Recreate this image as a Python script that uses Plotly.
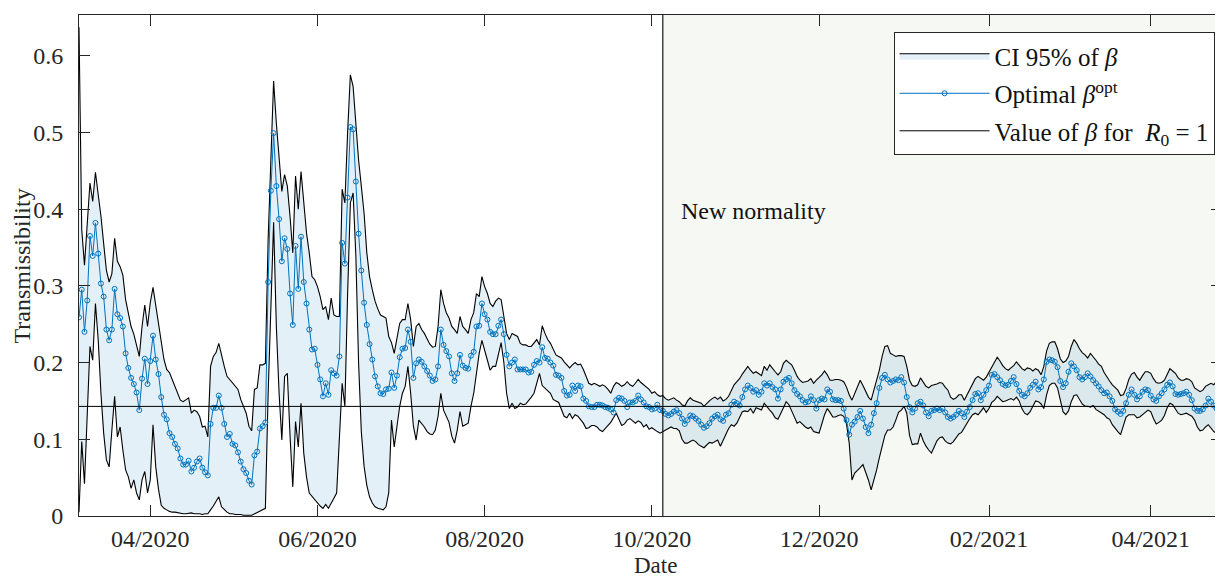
import plotly.graph_objects as go
import pandas as pd

# ---------------- data ----------------
START_DATE = "2020-03-06"
END_DATE = "2021-04-27"
NEW_NORMALITY_DATE = "2020-10-05"
BETA_R0 = 1 / 7  # value of beta for R0 = 1

beta_opt = [
    0.259, 0.295, 0.240, 0.281, 0.365, 0.339, 0.382, 0.342, 0.303, 0.286,
    0.243, 0.229, 0.243, 0.296, 0.263, 0.258, 0.247, 0.212, 0.193, 0.180,
    0.172, 0.161, 0.138, 0.179, 0.205, 0.172, 0.202, 0.235, 0.204, 0.185,
    0.155, 0.132, 0.126, 0.108, 0.103, 0.094, 0.088, 0.075, 0.067, 0.067,
    0.072, 0.058, 0.063, 0.071, 0.075, 0.063, 0.057, 0.053, 0.120, 0.141,
    0.141, 0.157, 0.141,
    0.120, 0.103, 0.107, 0.094, 0.092, 0.083, 0.071, 0.061, 0.056, 0.046,
    0.041, 0.079, 0.084, 0.114, 0.117, 0.122, 0.305, 0.424, 0.499, 0.430,
    0.387, 0.332, 0.362, 0.348, 0.290, 0.249, 0.352, 0.296, 0.364, 0.305,
    0.277, 0.243, 0.217, 0.218, 0.197, 0.178, 0.156, 0.173, 0.158, 0.190,
    0.186, 0.183, 0.208, 0.356, 0.329, 0.415, 0.507, 0.504, 0.436, 0.368,
    0.320, 0.278,
    0.249, 0.224, 0.204, 0.182, 0.169, 0.160, 0.159, 0.165, 0.166, 0.187,
    0.167, 0.183, 0.207, 0.218, 0.219, 0.243, 0.227, 0.180, 0.199, 0.204,
    0.201, 0.195, 0.189, 0.183, 0.176, 0.178, 0.195, 0.243, 0.223, 0.215,
    0.208, 0.186, 0.176, 0.186, 0.210, 0.196, 0.193, 0.192, 0.209, 0.214,
    0.247, 0.248, 0.277, 0.263, 0.256, 0.240, 0.237, 0.237, 0.248, 0.256,
    0.237, 0.210, 0.195,
    0.200, 0.204, 0.191, 0.191, 0.191, 0.191, 0.187, 0.188, 0.197, 0.202,
    0.200, 0.220, 0.206, 0.205, 0.200, 0.196, 0.184, 0.183, 0.180, 0.163,
    0.157, 0.158, 0.170, 0.163, 0.170, 0.169, 0.153, 0.150, 0.143, 0.142,
    0.142, 0.145, 0.145, 0.144, 0.142, 0.141, 0.139, 0.135, 0.151, 0.154,
    0.153, 0.150, 0.142, 0.148, 0.148, 0.150, 0.157, 0.152, 0.148, 0.143,
    0.142, 0.139, 0.140, 0.145, 0.138, 0.137, 0.133, 0.131, 0.133,
    0.136, 0.138, 0.134, 0.127, 0.120, 0.125, 0.131, 0.130, 0.127, 0.124,
    0.119, 0.115, 0.117, 0.121, 0.127, 0.130, 0.132, 0.126, 0.124, 0.132,
    0.134, 0.145, 0.149, 0.147, 0.144, 0.155, 0.165, 0.170, 0.167, 0.162,
    0.164, 0.158, 0.162, 0.173, 0.170, 0.173, 0.168, 0.165, 0.153, 0.165,
    0.175, 0.178, 0.180, 0.173, 0.164, 0.159, 0.156, 0.151, 0.148, 0.149,
    0.156, 0.151, 0.140, 0.151, 0.153, 0.152, 0.165, 0.162, 0.152, 0.151,
    0.151, 0.150, 0.140, 0.125, 0.106, 0.119, 0.123, 0.129, 0.137, 0.127,
    0.116, 0.108, 0.119, 0.134, 0.147, 0.167, 0.180, 0.184, 0.178, 0.174,
    0.176, 0.178, 0.177, 0.181, 0.174, 0.155, 0.142, 0.135, 0.140, 0.147,
    0.149, 0.144, 0.135, 0.130, 0.137, 0.138, 0.140, 0.138, 0.140, 0.135,
    0.129, 0.127, 0.129, 0.132, 0.137, 0.134, 0.129, 0.136, 0.142, 0.151,
    0.159, 0.160, 0.151, 0.158, 0.164, 0.170, 0.184, 0.185, 0.181, 0.177,
    0.172, 0.170, 0.171, 0.176, 0.181, 0.172, 0.163, 0.158, 0.156, 0.160,
    0.167, 0.171, 0.175, 0.165, 0.168, 0.178, 0.201, 0.204, 0.203, 0.201,
    0.194, 0.176, 0.168, 0.173, 0.188, 0.199, 0.195, 0.190, 0.181, 0.178,
    0.181, 0.186, 0.182, 0.177, 0.173, 0.169, 0.164, 0.160, 0.161, 0.156,
    0.150, 0.139, 0.136, 0.133, 0.137, 0.147, 0.158, 0.165, 0.158, 0.152,
    0.156, 0.162, 0.165, 0.164, 0.157, 0.152, 0.150, 0.156, 0.160, 0.165,
    0.171, 0.174, 0.169, 0.159, 0.158, 0.159, 0.160, 0.162, 0.158, 0.151,
    0.140, 0.137, 0.137, 0.139, 0.144, 0.153, 0.149, 0.144, 0.140, 0.146,
    0.152,
]

ci_low = [
    0.005, 0.097, 0.042, 0.140, 0.221, 0.203, 0.277, 0.230, 0.160, 0.108,
    0.073, 0.064, 0.112, 0.156, 0.103, 0.116, 0.086, 0.060, 0.051, 0.036,
    0.047, 0.030, 0.021, 0.047, 0.058, 0.030, 0.047, 0.119, 0.064, 0.035,
    0.014, 0.010, 0.008, 0.006, 0.005, 0.005, 0.004, 0.004, 0.003, 0.003,
    0.003, 0.004, 0.003, 0.003, 0.003, 0.002, 0.003, 0.003, 0.008, 0.013,
    0.018, 0.025, 0.012,
    0.008, 0.005, 0.003, 0.003, 0.002, 0.002, 0.002, 0.001, 0.001, 0.001,
    0.001, 0.002, 0.004, 0.006, 0.008, 0.010, 0.159, 0.268, 0.383, 0.247,
    0.160, 0.099, 0.182, 0.186, 0.104, 0.038, 0.123, 0.090, 0.147, 0.082,
    0.051, 0.030, 0.025, 0.021, 0.017, 0.013, 0.010, 0.015, 0.010, 0.017,
    0.023, 0.030, 0.095, 0.173, 0.143, 0.290, 0.408, 0.421, 0.340, 0.200,
    0.110, 0.065,
    0.040, 0.025, 0.017, 0.012, 0.010, 0.009, 0.008, 0.012, 0.030, 0.125,
    0.090, 0.117, 0.143, 0.160, 0.169, 0.195, 0.160, 0.117, 0.099, 0.125,
    0.121, 0.116, 0.110, 0.107, 0.106, 0.112, 0.130, 0.160, 0.138, 0.130,
    0.122, 0.104, 0.095, 0.112, 0.136, 0.117, 0.119, 0.121, 0.143, 0.160,
    0.182, 0.212, 0.229, 0.216, 0.203, 0.190, 0.195, 0.195, 0.212, 0.226,
    0.200, 0.160, 0.140,
    0.147, 0.140, 0.142, 0.147, 0.145, 0.146, 0.150, 0.155, 0.160, 0.172,
    0.186, 0.170, 0.166, 0.163, 0.160, 0.152, 0.150, 0.148, 0.138, 0.130,
    0.128, 0.134, 0.127, 0.132, 0.130, 0.125, 0.121, 0.114, 0.115, 0.118,
    0.118, 0.116, 0.112, 0.110, 0.114, 0.118, 0.122, 0.128, 0.134, 0.127,
    0.118, 0.120, 0.125, 0.127, 0.124, 0.121, 0.124, 0.122, 0.116, 0.119,
    0.113, 0.115, 0.112, 0.110, 0.108, 0.109, 0.112, 0.114, 0.116,
    0.114, 0.114, 0.111, 0.100, 0.095, 0.095, 0.097, 0.099, 0.097, 0.093,
    0.091, 0.089, 0.093, 0.096, 0.095, 0.097, 0.099, 0.091, 0.099, 0.107,
    0.114, 0.119, 0.117, 0.121, 0.128, 0.136, 0.137, 0.136, 0.140, 0.134,
    0.141, 0.140, 0.138, 0.147, 0.143, 0.138, 0.134, 0.128, 0.126, 0.134,
    0.141, 0.149, 0.145, 0.137, 0.130, 0.121, 0.123, 0.120, 0.116, 0.114,
    0.116, 0.110, 0.109, 0.108, 0.120, 0.132, 0.140, 0.135, 0.129, 0.129,
    0.131, 0.132, 0.130, 0.120, 0.095, 0.047, 0.056, 0.059, 0.063, 0.067,
    0.058, 0.047, 0.034, 0.045, 0.060, 0.076, 0.092, 0.105, 0.112, 0.112,
    0.116, 0.125, 0.135, 0.138, 0.143, 0.134, 0.105, 0.093, 0.094, 0.094,
    0.108, 0.098, 0.091, 0.086, 0.082, 0.090, 0.098, 0.102, 0.103, 0.098,
    0.095, 0.094, 0.097, 0.102, 0.107, 0.109, 0.114, 0.121, 0.127, 0.132,
    0.134, 0.132, 0.136, 0.141, 0.135, 0.140, 0.148, 0.151, 0.156, 0.152,
    0.149, 0.150, 0.151, 0.153, 0.151, 0.155, 0.150, 0.140, 0.134, 0.132,
    0.136, 0.143, 0.150, 0.149, 0.146, 0.140, 0.158, 0.170, 0.173, 0.173,
    0.167, 0.153, 0.136, 0.132, 0.137, 0.149, 0.157, 0.158, 0.153, 0.146,
    0.143, 0.143, 0.142, 0.144, 0.139, 0.136, 0.134, 0.132, 0.128, 0.126,
    0.119, 0.114, 0.110, 0.106, 0.117, 0.129, 0.132, 0.132, 0.132, 0.128,
    0.129, 0.131, 0.135, 0.138, 0.136, 0.127, 0.120, 0.122, 0.125, 0.131,
    0.141, 0.147, 0.145, 0.140, 0.134, 0.132, 0.133, 0.134, 0.132, 0.130,
    0.125, 0.116, 0.111, 0.112, 0.116, 0.119, 0.114, 0.110, 0.108, 0.111,
    0.115,
]

ci_high = [
    0.637, 0.373, 0.327, 0.380, 0.434, 0.410, 0.448, 0.419, 0.391, 0.355,
    0.320, 0.305, 0.316, 0.362, 0.332, 0.325, 0.314, 0.282, 0.265, 0.247,
    0.237, 0.221, 0.208, 0.247, 0.275, 0.247, 0.278, 0.298, 0.274, 0.247,
    0.223, 0.204, 0.191, 0.187, 0.178, 0.169, 0.160, 0.151, 0.149, 0.152,
    0.154, 0.134, 0.138, 0.136, 0.130, 0.116, 0.117, 0.103, 0.195, 0.208,
    0.213, 0.225, 0.208,
    0.195, 0.182, 0.178, 0.173, 0.169, 0.165, 0.152, 0.143, 0.134, 0.117,
    0.111, 0.165, 0.167, 0.197, 0.197, 0.199, 0.360, 0.464, 0.567, 0.512,
    0.469, 0.423, 0.445, 0.430, 0.390, 0.343, 0.443, 0.400, 0.449, 0.404,
    0.369, 0.343, 0.312, 0.308, 0.299, 0.286, 0.269, 0.273, 0.256, 0.284,
    0.262, 0.260, 0.260, 0.426, 0.408, 0.500, 0.575, 0.560, 0.508, 0.464,
    0.430, 0.395,
    0.343, 0.312, 0.295, 0.280, 0.270, 0.262, 0.260, 0.258, 0.234, 0.226,
    0.212, 0.234, 0.251, 0.256, 0.256, 0.277, 0.256, 0.221, 0.247, 0.251,
    0.243, 0.238, 0.230, 0.224, 0.220, 0.221, 0.247, 0.295, 0.277, 0.265,
    0.258, 0.247, 0.243, 0.238, 0.260, 0.247, 0.243, 0.238, 0.256, 0.265,
    0.290, 0.286, 0.312, 0.299, 0.290, 0.277, 0.273, 0.280, 0.284, 0.282,
    0.260, 0.238, 0.230,
    0.238, 0.236, 0.234, 0.225, 0.223, 0.223, 0.221, 0.221, 0.225, 0.230,
    0.223, 0.248, 0.238, 0.230, 0.225, 0.217, 0.210, 0.208, 0.206, 0.201,
    0.197, 0.193, 0.197, 0.200, 0.197, 0.198, 0.191, 0.182, 0.173, 0.171,
    0.173, 0.171, 0.169, 0.171, 0.169, 0.165, 0.160, 0.169, 0.174, 0.172,
    0.169, 0.171, 0.175, 0.171, 0.169, 0.173, 0.178, 0.174, 0.171, 0.167,
    0.165, 0.160, 0.162, 0.158, 0.156, 0.157, 0.153, 0.151, 0.152,
    0.154, 0.151, 0.149, 0.145, 0.143, 0.150, 0.154, 0.151, 0.150, 0.148,
    0.147, 0.143, 0.147, 0.150, 0.153, 0.155, 0.152, 0.155, 0.150, 0.152,
    0.156, 0.164, 0.171, 0.175, 0.179, 0.185, 0.190, 0.195, 0.190, 0.186,
    0.188, 0.185, 0.183, 0.195, 0.190, 0.197, 0.192, 0.188, 0.184, 0.188,
    0.199, 0.203, 0.200, 0.197, 0.190, 0.182, 0.177, 0.174, 0.175, 0.176,
    0.179, 0.173, 0.177, 0.180, 0.184, 0.189, 0.184, 0.177, 0.177, 0.178,
    0.178, 0.177, 0.175, 0.168, 0.158, 0.151, 0.160, 0.169, 0.177, 0.170,
    0.162, 0.155, 0.151, 0.164, 0.177, 0.190, 0.208, 0.221, 0.222, 0.212,
    0.210, 0.208, 0.209, 0.209, 0.208, 0.195, 0.177, 0.170, 0.169, 0.171,
    0.180, 0.175, 0.169, 0.167, 0.170, 0.171, 0.172, 0.174, 0.173, 0.168,
    0.164, 0.155, 0.152, 0.154, 0.158, 0.158, 0.151, 0.158, 0.165, 0.173,
    0.179, 0.182, 0.180, 0.177, 0.181, 0.188, 0.195, 0.201, 0.207, 0.202,
    0.196, 0.192, 0.190, 0.193, 0.196, 0.201, 0.197, 0.192, 0.190, 0.193,
    0.192, 0.189, 0.192, 0.190, 0.184, 0.195, 0.215, 0.225, 0.227, 0.227,
    0.218, 0.205, 0.200, 0.202, 0.208, 0.221, 0.230, 0.225, 0.218, 0.213,
    0.210, 0.206, 0.212, 0.208, 0.203, 0.198, 0.195, 0.187, 0.181, 0.176,
    0.171, 0.167, 0.164, 0.157, 0.158, 0.166, 0.178, 0.185, 0.187, 0.181,
    0.177, 0.183, 0.188, 0.188, 0.186, 0.179, 0.174, 0.173, 0.174, 0.177,
    0.185, 0.192, 0.189, 0.186, 0.180, 0.177, 0.177, 0.179, 0.178, 0.175,
    0.167, 0.164, 0.162, 0.164, 0.169, 0.171, 0.173, 0.171, 0.176, 0.177,
    0.180,
]

tick_dates = ["2020-04-01", "2020-06-01", "2020-08-01", "2020-10-01",
              "2020-12-01", "2021-02-01", "2021-04-01"]
tick_labels = ["04/2020", "06/2020", "08/2020", "10/2020",
               "12/2020", "02/2021", "04/2021"]
y_ticks = [0, 0.1, 0.2, 0.3, 0.4, 0.5, 0.6]
y_tick_labels = ["0", "0.1", "0.2", "0.3", "0.4", "0.5", "0.6"]

# ---------------- figure ----------------
dates = pd.date_range(START_DATE, periods=len(beta_opt), freq="D")
band_x = list(dates) + list(dates[::-1])
band_y = list(ci_high) + list(ci_low[::-1])

FONT = "Liberation Serif, Times New Roman, serif"
BLUE = "#0072BD"
AX = "#262626"
FS = 24

fig = go.Figure()

fig.add_trace(go.Scatter(
    x=band_x, y=band_y, fill="toself",
    fillcolor="rgba(0,114,189,0.11)",
    line=dict(color="black", width=1.1),
    mode="lines", name="CI 95% of <i>β</i>",
    legendgroup="a", hoverinfo="skip",
))
fig.add_trace(go.Scatter(
    x=dates, y=beta_opt, mode="lines+markers",
    line=dict(color=BLUE, width=1),
    marker=dict(symbol="circle-open", size=5, color=BLUE,
                line=dict(width=1, color=BLUE)),
    name="Optimal <i>β</i><sup>opt</sup>", legendgroup="b",
))
fig.add_trace(go.Scatter(
    x=[dates[0], dates[-1]], y=[BETA_R0, BETA_R0], mode="lines",
    line=dict(color="black", width=1),
    name="Value of <i>β</i> for  <i>R</i><sub>0</sub> = 1", legendgroup="c",
))

# shaded "new normality" period and separator
fig.add_shape(type="rect", xref="x", yref="paper",
              x0=NEW_NORMALITY_DATE, x1=END_DATE, y0=0, y1=1,
              fillcolor="#f6f8f3", line=dict(width=0), layer="below")
fig.add_shape(type="line", xref="x", yref="paper",
              x0=NEW_NORMALITY_DATE, x1=NEW_NORMALITY_DATE, y0=0, y1=1,
              line=dict(color="black", width=1.1), layer="above")

fig.add_annotation(x="2020-10-11", y=0.397, xref="x", yref="y",
                   text="New normality", showarrow=False,
                   xanchor="left", yanchor="middle",
                   font=dict(family=FONT, size=FS, color="#111111"))

# axis titles
fig.add_annotation(x=-0.0499, y=0.50, xref="paper", yref="paper",
                   text="Transmissibility", textangle=-90, showarrow=False,
                   xanchor="center", yanchor="middle",
                   font=dict(family=FONT, size=FS, color=AX))
fig.add_annotation(x=0.504, y=-0.0998, xref="paper", yref="paper",
                   text="Date", showarrow=False, borderpad=0,
                   xanchor="center", yanchor="middle",
                   font=dict(family=FONT, size=23, color=AX))

# the page body has an 8 px margin; figure size/margins compensate for it
fig.update_layout(
    width=1215, height=570,
    margin=dict(l=71, r=1, t=7, b=62, autoexpand=False),
    paper_bgcolor="white", plot_bgcolor="white",
    font=dict(family=FONT, size=FS, color=AX),
    showlegend=True,
    legend=dict(
        x=0.9935, y=0.966, xanchor="right", yanchor="top",
        bgcolor="white", bordercolor=AX, borderwidth=1,
        font=dict(family=FONT, size=25, color="#111111"),
        itemwidth=90, tracegroupgap=2,
    ),
)

fig.update_xaxes(
    range=[START_DATE, END_DATE],
    tickvals=tick_dates, ticktext=tick_labels,
    ticks="inside", ticklen=11, tickcolor=AX, tickwidth=1,
    showline=True, linecolor=AX, linewidth=1, mirror="allticks",
    showgrid=False, zeroline=False,
    tickfont=dict(family=FONT, size=FS, color=AX),
    ticklabelstandoff=1,
)
fig.update_yaxes(
    range=[0, 0.653],
    tickvals=y_ticks, ticktext=y_tick_labels,
    ticks="inside", ticklen=11, tickcolor=AX, tickwidth=1,
    showline=True, linecolor=AX, linewidth=1, mirror="allticks",
    showgrid=False, zeroline=False,
    tickfont=dict(family=FONT, size=FS, color=AX),
    ticklabelstandoff=10,
)

fig.write_html("out.html")
